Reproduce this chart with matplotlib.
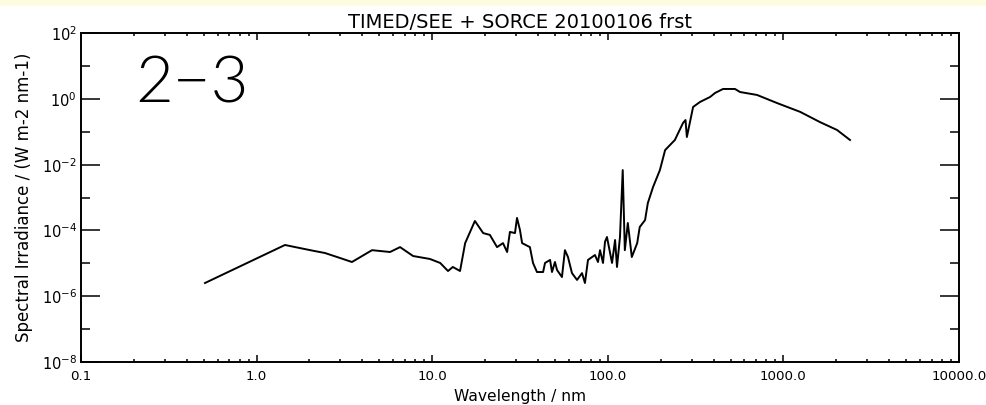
import numpy as np
import matplotlib.pyplot as plt
from matplotlib.patches import Rectangle

# wavelength (nm) and spectral irradiance (W m-2 nm-1)
wavelength = [0.508, 1.45, 1.66, 2.1, 2.45, 2.87, 3.49, 4.54, 5.75, 6.56,
              7.78, 9.7, 11.1, 12.3, 13.1, 14.4, 15.4, 17.5, 19.5, 21.3,
              23.4, 25.3, 26.7, 27.7, 29.6, 30.4, 31.6, 32.5, 36.0, 37.5,
              39.5, 42.8, 43.9, 46.9, 48.1, 50.0, 51.4, 54.8, 57.0, 59.3,
              62.5, 66.8, 71.3, 74.1, 77.1, 84.5, 87.9, 90.3, 93.9, 96.4,
              98.9, 105.7, 110, 112.8, 117.3, 121.6, 125, 130, 137, 147,
              152, 163, 169, 181, 198, 212, 226, 241, 268, 277,
              282, 306, 335, 382, 408, 453, 530, 566, 708, 920,
              1245, 1615, 2020, 2395]
irradiance = [2.5e-6, 3.6e-5, 3.1e-5, 2.4e-5, 2.05e-5, 1.55e-5, 1.09e-5, 2.5e-5, 2.2e-5, 3.1e-5,
              1.66e-5, 1.35e-5, 1.02e-5, 5.8e-6, 7.7e-6, 5.8e-6, 4.1e-5, 1.94e-4, 8.3e-5, 7.3e-5,
              3.1e-5, 4.1e-5, 2.2e-5, 9.0e-5, 8.3e-5, 2.4e-4, 1.03e-4, 4.1e-5, 3.1e-5, 1.02e-5,
              5.4e-6, 5.4e-6, 1.02e-5, 1.26e-5, 5.4e-6, 1.09e-5, 6.2e-6, 3.8e-6, 2.5e-5, 1.55e-5,
              5.0e-6, 3.1e-6, 5.0e-6, 2.5e-6, 1.26e-5, 1.78e-5, 1.09e-5, 2.5e-5, 1.02e-5, 4.5e-5,
              6.3e-5, 1.02e-5, 5.1e-5, 7.7e-6, 6.3e-5, 6.9e-3, 2.5e-5, 1.68e-4, 1.55e-5, 4.1e-5,
              1.27e-4, 2.07e-4, 6.8e-4, 2.1e-3, 6.9e-3, 0.028, 0.040, 0.057, 0.187, 0.231,
              0.070, 0.577, 0.82, 1.16, 1.54, 2.04, 2.04, 1.65, 1.34, 0.76,
              0.41, 0.20, 0.115, 0.057]

xticks = [0.1, 1.0, 10.0, 100.0, 1000.0, 10000.0]
xticklabels = ['0.1', '1.0', '10.0', '100.0', '1000.0', '10000.0']
yticks = [1e2, 1e0, 1e-2, 1e-4, 1e-6, 1e-8]
yticklabels = [r'$10^{2}$', r'$10^{0}$', r'$10^{-2}$', r'$10^{-4}$', r'$10^{-6}$', r'$10^{-8}$']
yminor = [1e1, 1e-1, 1e-3, 1e-5, 1e-7]

fig = plt.figure(figsize=(9.86, 4.05), dpi=100)
fig.patches.append(Rectangle((0, 0.985), 1, 0.015, transform=fig.transFigure,
                             facecolor='#fdfbe0', edgecolor='none', zorder=0))
ax = fig.add_axes([0.0822, 0.1069, 0.8904, 0.8104])

ax.plot(wavelength, irradiance, color='black', lw=1.4)

ax.set_xscale('log')
ax.set_yscale('log')
ax.set_xlim(0.1, 10000)
ax.set_ylim(1e-8, 1e2)

ax.set_xticks(xticks)
ax.set_xticklabels(xticklabels)
ax.set_yticks(yticks)
ax.set_yticklabels(yticklabels)
ax.set_yticks(yminor, minor=True)
ax.yaxis.set_minor_formatter(plt.NullFormatter())

ax.tick_params(axis='x', which='major', direction='in', length=5, width=1.1,
               top=True, labelsize=9.6, pad=6)
ax.tick_params(axis='x', which='minor', direction='in', length=2.2, width=1.1, top=True)
ax.tick_params(axis='y', which='major', direction='in', length=13.5, width=1.1,
               right=True, labelsize=10.5, pad=3)
ax.tick_params(axis='y', which='minor', direction='in', length=6.5, width=1.1, right=True)
for s in ax.spines.values():
    s.set_linewidth(1.4)

ax.set_title('TIMED/SEE + SORCE 20100106 frst', fontsize=14, pad=4)
ax.set_xlabel('Wavelength / nm', fontsize=11.2)
ax.xaxis.set_label_coords(0.5, -0.082)
ax.set_ylabel('Spectral Irradiance / (W m-2 nm-1)', fontsize=12)
ax.yaxis.set_label_coords(-0.055, 0.5)

# big panel label in a thin face, like the vector font of the original
ax.text(0.0615, 0.791, '2\u22123', transform=ax.transAxes, fontsize=47,
        family=['Lato', 'DejaVu Sans'], fontweight=300,
        va='baseline', ha='left')

fig.savefig('out.png', dpi=100)
